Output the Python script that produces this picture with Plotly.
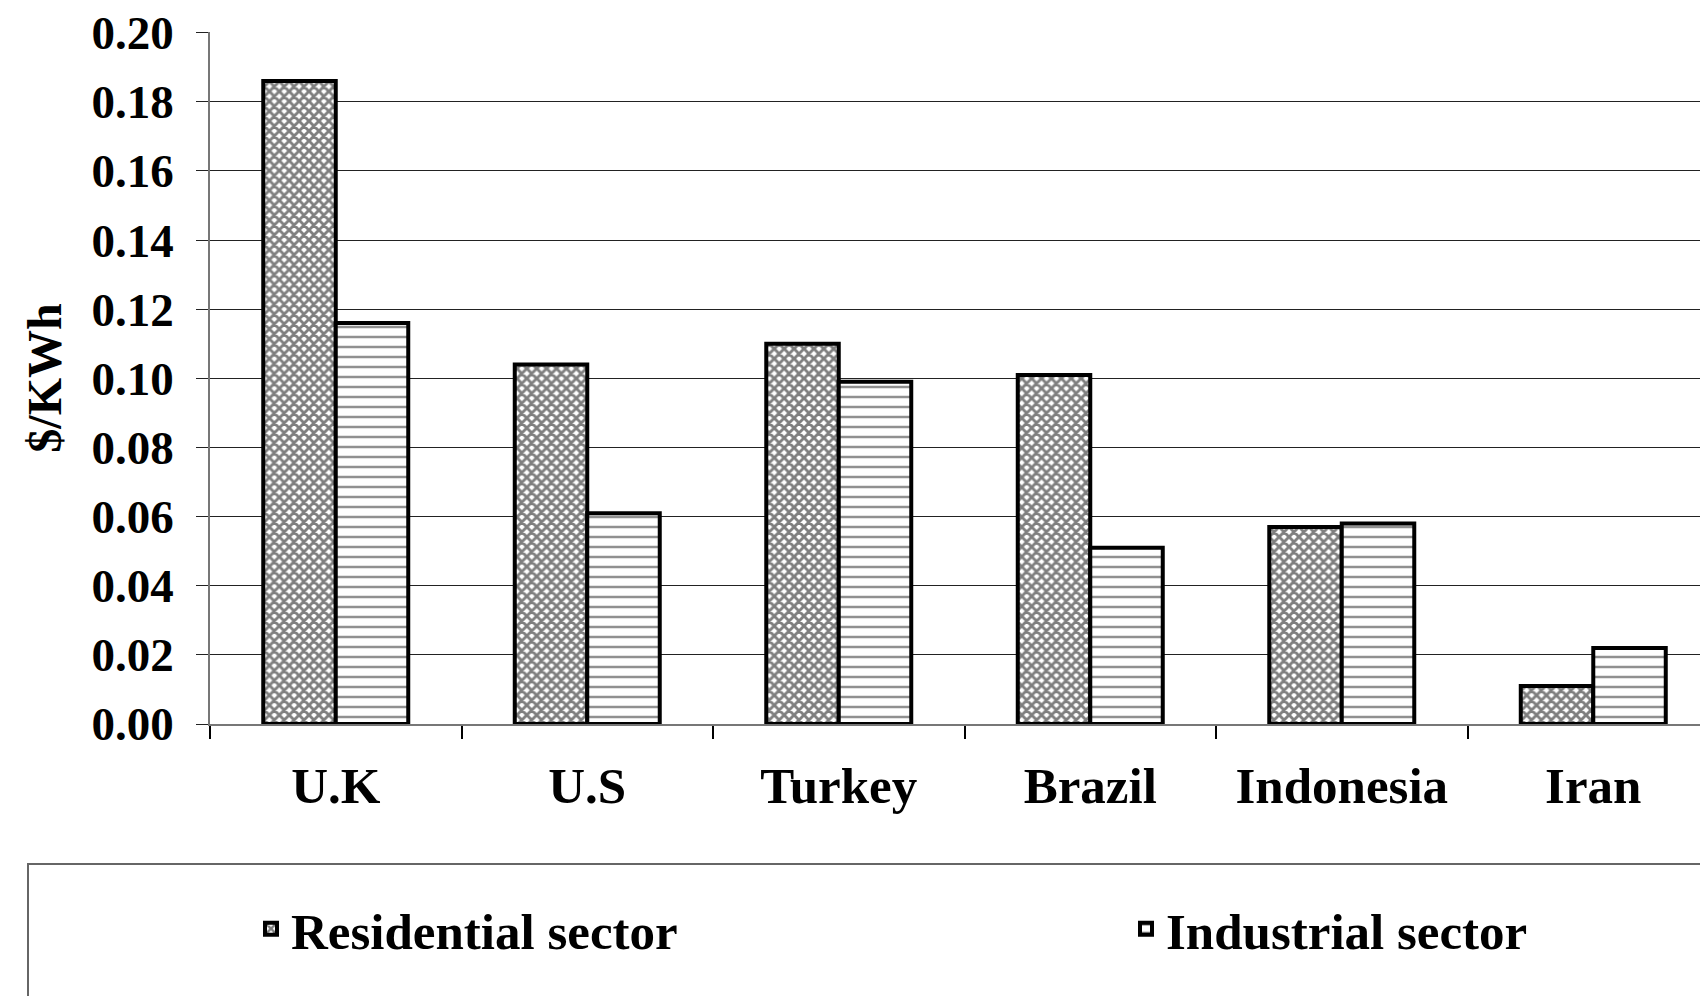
import plotly.graph_objects as go

countries = ["U.K", "U.S", "Turkey", "Brazil", "Indonesia", "Iran"]
residential = [0.186, 0.104, 0.110, 0.101, 0.057, 0.011]
industrial = [0.116, 0.061, 0.099, 0.051, 0.058, 0.022]
y_ticks = [0.00, 0.02, 0.04, 0.06, 0.08, 0.10, 0.12, 0.14, 0.16, 0.18, 0.20]
y_ticklabels = ["0.00", "0.02", "0.04", "0.06", "0.08", "0.10", "0.12", "0.14", "0.16", "0.18", "0.20"]

W, H = 1708, 996
L, R, T, B = 202, 0, 24, 280
FONT = "Liberation Serif, Times New Roman, serif"
PW = W - L - R
PH = H - T - B
BASE = H - B


def px_x(fx):
    return (fx - L) / PW


def px_y(fy):
    return (BASE - fy) / PH


fig = go.Figure()
fig.add_trace(go.Bar(
    x=countries, y=residential, name="<b>Residential sector</b>", legend="legend",
    marker=dict(color="white", line=dict(color="black", width=4),
                pattern=dict(shape="x", size=7, solidity=0.65, fgcolor="black", bgcolor="white")),
))
fig.add_trace(go.Bar(
    x=countries, y=industrial, name="<b>Industrial sector</b>", legend="legend2",
    marker=dict(color="white", line=dict(color="black", width=4),
                pattern=dict(shape="-", size=10, solidity=0.25, fgcolor="#222", bgcolor="white")),
))

# legend frame
fig.add_shape(type="rect", xref="paper", yref="paper",
              x0=px_x(20), x1=1.05, y0=-0.6, y1=px_y(856),
              line=dict(color="#666", width=2), fillcolor="rgba(0,0,0,0)", layer="below")

leg_common = dict(orientation="h", xanchor="left", yanchor="middle", y=px_y(921),
                  bgcolor="rgba(0,0,0,0)", borderwidth=0,
                  font=dict(family=FONT, size=51, color="black"))

fig.update_layout(
    width=W, height=H,
    margin=dict(l=L, r=R, t=T, b=B, autoexpand=False),
    paper_bgcolor="white", plot_bgcolor="white",
    barmode="group", bargap=0.4235, bargroupgap=0,
    font=dict(family=FONT, size=48, color="black"),
    showlegend=True,
    legend=dict(x=px_x(243), **leg_common),
    legend2=dict(x=px_x(1118), **leg_common),
    xaxis=dict(range=[-0.5, 5.488], showgrid=False, showline=True, linecolor="#777", linewidth=1.5,
               ticks="outside", tickson="boundaries", ticklen=13, tickcolor="black", tickwidth=1.5,
               tickfont=dict(family=FONT, size=51, color="black"),
               tickvals=countries, ticktext=["<b>%s</b>" % c for c in countries],
               ticklabelstandoff=16),
    yaxis=dict(range=[0, 0.2002], tickvals=y_ticks, ticktext=["<b>%s</b>" % t for t in y_ticklabels],
               showgrid=True, gridcolor="#222", gridwidth=1.2,
               showline=True, linecolor="#777", linewidth=1.5,
               ticks="outside", ticklen=12, tickcolor="#222", tickwidth=1.2,
               tickfont=dict(family=FONT, size=47, color="black"), ticklabelstandoff=13,
               ticklabeloverflow="allow",
               zeroline=False,
               title=dict(text="<b>$/KWh</b>", font=dict(family=FONT, size=48, color="black"), standoff=15)),
)

fig.write_html("out.html")
